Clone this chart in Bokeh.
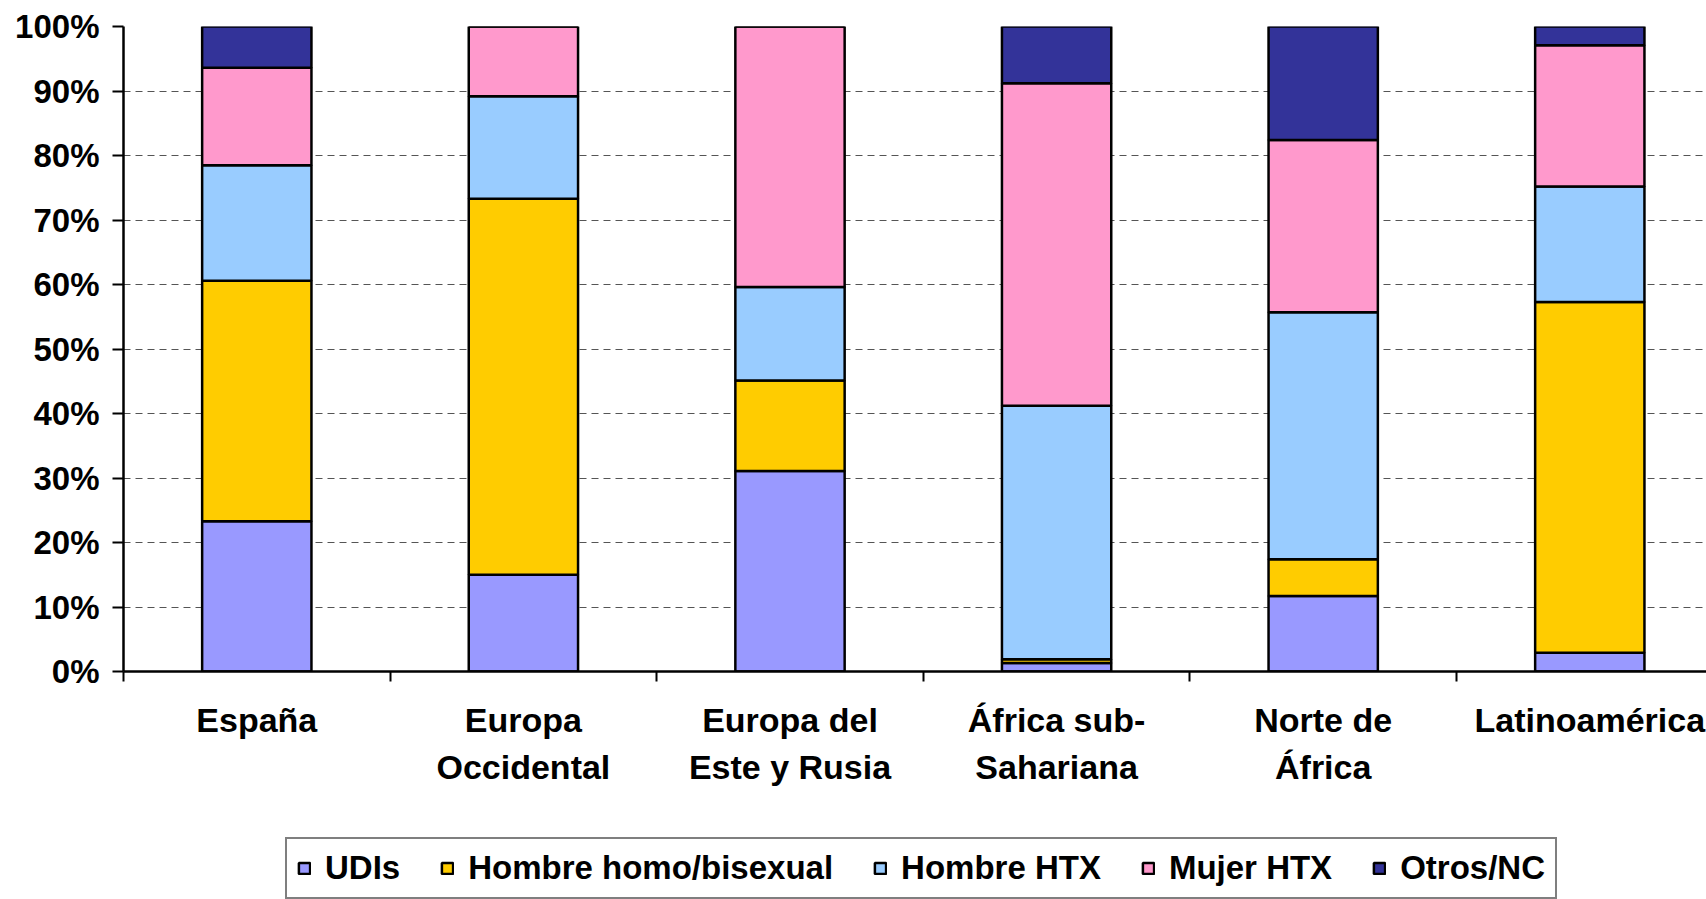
from bokeh.plotting import figure
from bokeh.layouts import column
from bokeh.models import Range1d, LinearAxis, FixedTicker, Legend, LegendItem, ColumnDataSource
from bokeh.embed import file_html
from bokeh.resources import INLINE

# ---------------- data ----------------
categories = ["España", "Europa\nOccidental", "Europa del\nEste y Rusia",
              "África sub-\nSahariana", "Norte de\nÁfrica", "Latinoamérica"]
series_labels = ["UDIs", "Hombre homo/bisexual", "Hombre HTX", "Mujer HTX", "Otros/NC"]
udis = [23.3, 15.0, 31.1, 1.3, 11.7, 2.9]
homo_bi = [37.3, 58.3, 14.0, 0.6, 5.7, 54.4]
hombre_htx = [17.9, 15.9, 14.5, 39.3, 38.3, 17.9]
mujer_htx = [15.1, 10.8, 40.4, 50.0, 26.7, 21.9]
otros_nc = [6.4, 0.0, 0.0, 8.8, 17.6, 2.9]
colors = ["#9999FF", "#FFCC00", "#99CCFF", "#FF99CC", "#333399"]
y_ticks = list(range(0, 101, 10))
y_tick_labels = [f"{t}%" for t in y_ticks]

FONT = "Liberation Sans"

keys = ["udis", "homo_bi", "hombre_htx", "mujer_htx", "otros_nc"]
centers = [i + 0.5 for i in range(len(categories))]
source = ColumnDataSource(dict(x=centers, udis=udis, homo_bi=homo_bi,
                               hombre_htx=hombre_htx, mujer_htx=mujer_htx,
                               otros_nc=otros_nc))

W = 1706
H_MAIN = 836
H_LEG = 63
LEFT = 123
TOP = 26
FRAME_BOTTOM = 670.7
cat_px = 266.6
frame_w = W - LEFT

p = figure(width=W, height=H_MAIN, output_backend="svg", toolbar_location=None,
           x_range=Range1d(0, frame_w / cat_px), y_range=Range1d(0, 100),
           x_axis_location=None,
           min_border_left=LEFT, min_border_right=0, min_border_top=TOP,
           min_border_bottom=int(round(H_MAIN - FRAME_BOTTOM)))
p.outline_line_color = None
p.background_fill_color = "white"
p.border_fill_color = "white"
p.xgrid.visible = False

# y axis
ya = p.yaxis[0]
ya.ticker = FixedTicker(ticks=y_ticks)
ya.major_label_overrides = {t: l for t, l in zip(y_ticks, y_tick_labels)}
ya.major_label_text_font = FONT
ya.major_label_text_font_style = "bold"
ya.major_label_text_font_size = "33px"
ya.major_label_text_color = "black"
ya.major_label_standoff = 13
ya.major_tick_out = 11
ya.major_tick_in = 0
ya.major_tick_line_width = 2
ya.major_tick_line_color = "black"
ya.minor_tick_line_color = None
ya.axis_line_width = 2.5
ya.axis_line_color = "black"

p.ygrid.grid_line_color = "#555555"
p.ygrid.grid_line_width = 1.2
p.ygrid.grid_line_dash = "7 5"

# bars
bar_style = dict(width=0.41, line_color="black", line_width=2.5)
renderers = p.vbar_stack(keys, x="x", source=source, fill_color=colors, **bar_style)

# x axes: tick marks at category boundaries, two lines of labels
line1 = [c.split("\n")[0] for c in categories]
line2 = [c.split("\n")[1] if "\n" in c else "" for c in categories]

def text_style(ax, size):
    ax.major_label_text_font = FONT
    ax.major_label_text_font_style = "bold"
    ax.major_label_text_font_size = size
    ax.major_label_text_color = "black"

axA = LinearAxis(ticker=FixedTicker(ticks=centers, minor_ticks=list(range(len(categories) + 1))))
axA.major_label_overrides = {c: l for c, l in zip(centers, line1)}
axA.major_tick_line_color = None
axA.major_tick_out = 0
axA.major_tick_in = 0
axA.minor_tick_out = 10
axA.minor_tick_in = 0
axA.minor_tick_line_width = 2
axA.minor_tick_line_color = "black"
axA.axis_line_width = 2.5
axA.axis_line_color = "black"
axA.major_label_standoff = 19
text_style(axA, "34px")
p.add_layout(axA, "below")

c2 = [c for c, l in zip(centers, line2) if l]
l2 = [l for l in line2 if l]
axB = LinearAxis(ticker=FixedTicker(ticks=c2, minor_ticks=[]))
axB.major_label_overrides = {c: l for c, l in zip(c2, l2)}
axB.axis_line_color = None
axB.major_tick_line_color = None
axB.minor_tick_line_color = None
axB.major_tick_out = 0
axB.major_tick_in = 0
axB.minor_tick_out = 0
axB.minor_tick_in = 0
axB.major_label_standoff = 6
text_style(axB, "34px")
p.add_layout(axB, "below")

# ---------------- legend strip ----------------
pl = figure(width=W, height=H_LEG, output_backend="svg", toolbar_location=None,
            x_range=Range1d(0, 1), y_range=Range1d(0, 1),
            x_axis_location=None, y_axis_location=None,
            min_border=0, min_border_left=0, min_border_right=0,
            min_border_top=0, min_border_bottom=0)
pl.outline_line_color = None
pl.grid.visible = False
pl.background_fill_color = "white"
pl.border_fill_color = "white"

# hidden copies of the series, used only as legend swatches
leg_renderers = [pl.vbar(x="x", top=k, source=source, fill_color=c, visible=False, **bar_style)
                 for k, c in zip(keys, colors)]
items = [LegendItem(label=lab, renderers=[r]) for lab, r in zip(series_labels, leg_renderers)]
legend = Legend(items=items, orientation="horizontal", location=(162, 0))
legend.label_text_font = FONT
legend.label_text_font_style = "bold"
legend.label_text_font_size = "33px"
legend.label_text_color = "black"
legend.glyph_width = 14
legend.glyph_height = 14
legend.label_standoff = 14
legend.spacing = 40
legend.padding = 10
legend.margin = 0
legend.border_line_color = "black"
legend.border_line_width = 2.5
legend.background_fill_color = "white"
legend.background_fill_alpha = 1.0
legend.click_policy = "none"
pl.add_layout(legend)

layout = column(p, pl, spacing=0)
open("out.html", "w").write(file_html(layout, INLINE))
